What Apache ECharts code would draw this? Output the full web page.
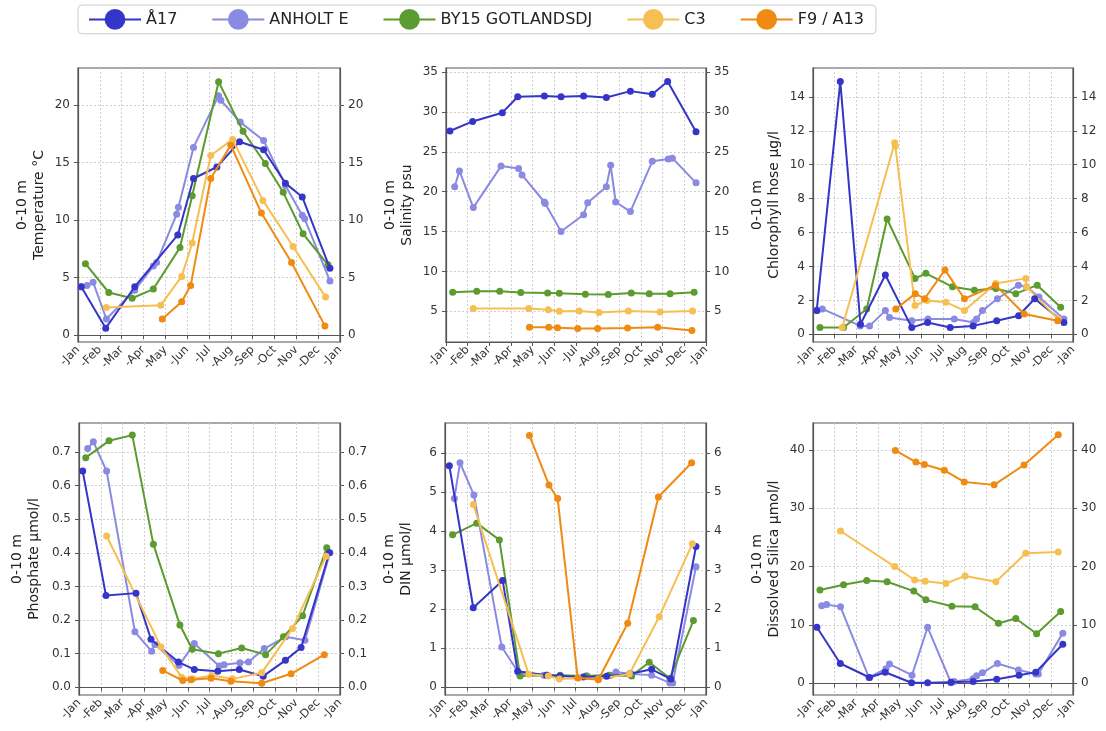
<!DOCTYPE html>
<html><head><meta charset="utf-8">
<script src="https://cdn.jsdelivr.net/npm/echarts@6/dist/echarts.min.js"></script>
<style>html,body{margin:0;padding:0;background:#fff}#c{width:1106px;height:731px}</style>
</head><body><div id="c"></div>
<script>
const stations = ['Å17','ANHOLT E','BY15 GOTLANDSDJ','C3','F9 / A13'];
const colors = ['#3535c8','#8a8ae2','#5b9b2f','#f6bf52','#ef8a12'];
const monthLabels = ['-Jan','-Feb','-Mar','-Apr','-May','-Jun','-Jul','-Aug','-Sep','-Oct','-Nov','-Dec','-Jan'];
// x = month offset from 1 Jan (fractional months)
const tempA17=[[0.15,4.2],[1.27,0.6],[2.6,4.2],[4.57,8.7],[5.29,13.6],[6.36,14.6],[7.4,16.8],[8.5,16.1],[9.5,13.2],[10.27,12.0],[11.54,5.8]];
const tempAnh=[[0.15,4.2],[0.41,4.3],[0.69,4.6],[1.3,1.4],[2.6,3.9],[3.45,6.0],[3.6,6.3],[4.52,10.5],[4.6,11.1],[5.29,16.3],[6.44,20.8],[6.54,20.4],[7.43,18.5],[8.5,16.9],[9.5,13.0],[10.27,10.4],[10.38,10.1],[11.54,4.7]];
const tempBy15=[[0.34,6.2],[1.41,3.7],[2.48,3.2],[3.45,4.0],[4.67,7.6],[5.23,12.1],[6.44,22.0],[7.56,17.7],[8.58,14.9],[9.4,12.4],[10.31,8.8],[11.45,6.1]];
const tempC3=[[1.3,2.4],[3.79,2.6],[4.75,5.1],[5.23,8.0],[6.08,15.6],[7.08,17.0],[8.47,11.7],[9.85,7.7],[11.34,3.3]];
const tempF9=[[3.86,1.4],[4.75,2.9],[5.16,4.3],[6.08,13.6],[7.0,16.5],[8.4,10.6],[9.78,6.3],[11.31,0.8]];

const salA17=[[0.18,27.6],[1.23,28.8],[2.6,29.9],[3.31,31.9],[4.54,32.0],[5.31,31.9],[6.35,32.0],[7.4,31.8],[8.51,32.6],[9.52,32.2],[10.23,33.8],[11.54,27.5]];
const salAnh=[[0.4,20.6],[0.62,22.6],[1.26,18.0],[2.54,23.2],[3.35,22.9],[3.51,22.1],[4.54,18.7],[4.58,18.5],[5.31,15.0],[6.35,17.1],[6.54,18.6],[7.4,20.6],[7.6,23.3],[7.83,18.7],[8.51,17.5],[9.52,23.8],[10.26,24.1],[10.45,24.2],[11.54,21.1]];
const salBy15=[[0.31,7.4],[1.42,7.5],[2.48,7.5],[3.45,7.35],[4.69,7.3],[5.23,7.25],[6.43,7.15],[7.49,7.1],[8.55,7.3],[9.38,7.2],[10.34,7.2],[11.45,7.4]];
const salC3=[[1.26,5.35],[3.82,5.35],[4.72,5.2],[5.23,5.0],[6.15,5.05],[7.06,4.85],[8.42,5.05],[9.88,4.9],[11.38,5.05]];
const salF9=[[3.85,3.0],[4.74,3.0],[5.15,2.95],[6.08,2.85],[7.0,2.85],[8.38,2.9],[9.77,3.0],[11.35,2.6]];

const chlA17=[[0.17,1.4],[1.26,14.9],[2.19,0.6],[3.34,3.5],[4.56,0.4],[5.29,0.7],[6.33,0.4],[7.39,0.5],[8.48,0.8],[9.49,1.1],[10.23,2.1],[11.58,0.7]];
const chlAnh=[[0.2,1.4],[0.43,1.5],[2.18,0.5],[2.61,0.5],[3.34,1.4],[3.53,1.0],[4.56,0.8],[5.31,0.9],[6.52,0.9],[7.41,0.7],[7.55,0.9],[7.82,1.4],[8.51,2.1],[9.48,2.9],[9.85,2.8],[10.43,2.2],[11.58,0.9]];
const chlBy15=[[0.32,0.4],[1.41,0.4],[2.48,1.5],[3.42,6.8],[4.71,3.3],[5.21,3.6],[6.44,2.8],[7.45,2.6],[8.44,2.7],[9.36,2.4],[10.35,2.9],[11.43,1.6]];
const chlC3=[[1.35,0.4],[3.77,11.3],[3.8,11.1],[4.71,1.7],[5.26,2.0],[6.13,1.9],[6.99,1.4],[8.44,3.0],[9.82,3.3],[9.86,2.8],[11.32,0.9]];
const chlF9=[[3.82,1.5],[4.72,2.4],[5.15,2.1],[6.09,3.8],[6.99,2.1],[8.42,2.9],[9.75,1.2],[11.29,0.8]];

const phoA17=[[0.17,0.643],[1.24,0.273],[2.62,0.28],[3.31,0.143],[4.57,0.075],[5.3,0.053],[6.38,0.048],[7.37,0.053],[8.47,0.033],[9.49,0.080],[10.21,0.118],[11.51,0.40]];
const phoAnh=[[0.4,0.71],[0.66,0.73],[1.27,0.643],[2.57,0.165],[3.34,0.107],[3.49,0.127],[4.6,0.065],[5.3,0.13],[6.45,0.063],[6.67,0.067],[7.4,0.073],[7.79,0.075],[8.52,0.115],[9.5,0.15],[10.39,0.14],[11.54,0.40]];
const phoBy15=[[0.31,0.683],[1.38,0.733],[2.45,0.75],[3.42,0.425],[4.64,0.185],[5.21,0.113],[6.41,0.10],[7.48,0.117],[8.58,0.097],[9.4,0.15],[10.28,0.213],[11.39,0.415]];
const phoC3=[[1.27,0.45],[3.77,0.12],[4.72,0.03],[5.23,0.025],[6.1,0.035],[7.06,0.025],[8.4,0.043],[9.82,0.175],[11.36,0.39]];
const phoF9=[[3.85,0.05],[4.77,0.02],[5.15,0.022],[6.07,0.027],[6.98,0.018],[8.4,0.012],[9.75,0.04],[11.28,0.097]];

const dinA17=[[0.2,5.67],[1.3,2.03],[2.65,2.73],[3.34,0.4],[4.67,0.3],[5.29,0.28],[6.36,0.25],[7.43,0.27],[8.48,0.33],[9.5,0.45],[10.39,0.2],[11.54,3.6]];
const dinAnh=[[0.43,4.83],[0.69,5.75],[1.33,4.92],[2.61,1.02],[3.4,0.35],[4.55,0.3],[5.32,0.28],[6.54,0.28],[7.62,0.3],[7.86,0.38],[8.58,0.33],[9.5,0.3],[10.34,0.1],[10.47,0.1],[11.54,3.08]];
const dinBy15=[[0.35,3.9],[1.46,4.2],[2.5,3.77],[3.45,0.28],[4.7,0.3],[5.29,0.3],[6.48,0.28],[7.54,0.3],[8.58,0.28],[9.39,0.63],[10.34,0.22],[11.42,1.7]];
const dinC3=[[1.3,4.68],[3.85,0.32],[4.75,0.28],[5.26,0.2],[6.13,0.22],[7.05,0.2],[8.48,0.33],[9.85,1.8],[11.37,3.67]];
const dinF9=[[3.88,6.45],[4.78,5.18],[5.18,4.83],[6.1,0.23],[7.05,0.18],[8.4,1.63],[9.81,4.87],[11.34,5.75]];

const silA17=[[0.18,9.6],[1.26,3.4],[2.61,1.0],[3.33,1.9],[4.55,0.1],[5.29,0.1],[6.37,0.2],[7.39,0.3],[8.48,0.7],[9.51,1.4],[10.28,1.9],[11.53,6.7]];
const silAnh=[[0.4,13.3],[0.63,13.5],[1.27,13.1],[2.58,1.0],[3.37,2.5],[3.53,3.3],[4.57,1.4],[5.29,9.6],[6.37,0.1],[6.52,0.3],[7.39,0.8],[7.55,1.3],[7.82,1.8],[8.51,3.4],[9.48,2.3],[10.28,1.6],[10.4,1.6],[11.53,8.6]];
const silBy15=[[0.32,16.0],[1.41,16.9],[2.48,17.6],[3.42,17.4],[4.65,15.8],[5.21,14.3],[6.41,13.2],[7.48,13.1],[8.56,10.3],[9.36,11.1],[10.32,8.5],[11.43,12.3]];
const silC3=[[1.27,26.1],[3.77,20.0],[4.69,17.7],[5.18,17.5],[6.13,17.1],[7.02,18.4],[8.44,17.4],[9.82,22.3],[11.32,22.5]];
const silF9=[[3.8,39.9],[4.75,37.9],[5.14,37.5],[6.06,36.5],[6.98,34.5],[8.36,34.0],[9.74,37.4],[11.32,42.6]];

const tempTicks=[0,5,10,15,20], salTicks=[5,10,15,20,25,30,35], chlTicks=[0,2,4,6,8,10,12,14];
const phoTicks=[0,0.1,0.2,0.3,0.4,0.5,0.6,0.7], dinTicks=[0,1,2,3,4,5,6], silTicks=[0,10,20,30,40];

const panels=[
 {name:'0-10 m\nTemperature °C', min:-0.6, max:23.2, ticks:tempTicks, dec:0, data:[tempA17,tempAnh,tempBy15,tempC3,tempF9], l:78,t:68,w:262,h:274},
 {name:'0-10 m\nSalinity psu', min:1.15, max:35.5, ticks:salTicks, dec:0, data:[salA17,salAnh,salBy15,salC3,salF9], l:446,t:68,w:260,h:274},
 {name:'0-10 m\nChlorophyll hose µg/l', min:-0.45, max:15.7, ticks:chlTicks, dec:0, data:[chlA17,chlAnh,chlBy15,chlC3,chlF9], l:813,t:68,w:260,h:274},
 {name:'0-10 m\nPhosphate µmol/l', min:-0.023, max:0.786, ticks:phoTicks, dec:1, data:[phoA17,phoAnh,phoBy15,phoC3,phoF9], l:79,t:423,w:261,h:272},
 {name:'0-10 m\nDIN µmol/l', min:-0.21, max:6.77, ticks:dinTicks, dec:0, data:[dinA17,dinAnh,dinBy15,dinC3,dinF9], l:445,t:423,w:261,h:272},
 {name:'0-10 m\nDissolved Silica µmol/l', min:-2, max:44.6, ticks:silTicks, dec:0, data:[silA17,silAnh,silBy15,silC3,silF9], l:813,t:423,w:260,h:272}
];
const grid=[],xAxis=[],yAxis=[],series=[];
const axCol='#555', txtCol='#333';
panels.forEach((p,i)=>{
  grid.push({left:p.l,top:p.t,width:p.w,height:p.h,show:true,borderColor:axCol,borderWidth:1.2,backgroundColor:'transparent'});
  xAxis.push({type:'value',gridIndex:i,min:0,max:12,interval:1,
    axisLine:{show:true,lineStyle:{color:axCol,width:1.2}},axisTick:{show:true,length:4,lineStyle:{color:axCol}},
    axisLabel:{rotate:45,fontSize:11.5,color:txtCol,fontFamily:'DejaVu Sans',margin:6,formatter:v=>monthLabels[Math.round(v)]},
    splitLine:{show:true,lineStyle:{color:'#cfcfcf',type:[2,2]}}});
  const yCommon={type:'value',gridIndex:i,min:p.min,max:p.max,
    axisLine:{show:true,lineStyle:{color:axCol,width:1.2}},
    axisTick:{show:true,length:4,customValues:p.ticks,lineStyle:{color:axCol}},
    axisLabel:{fontSize:12,color:txtCol,fontFamily:'DejaVu Sans',customValues:p.ticks,formatter:v=>v.toFixed(p.dec)}};
  yAxis.push(Object.assign({},yCommon,{position:'left',name:p.name,nameLocation:'middle',nameGap:i===3?36:30,nameRotate:90,
    nameTextStyle:{fontSize:14,color:'#222',fontFamily:'DejaVu Sans',lineHeight:17},
    splitLine:{show:true,lineStyle:{color:'#cfcfcf',type:[2,2]}}}));
  yAxis.push(Object.assign({},yCommon,{position:'right',splitLine:{show:false}}));
  p.data.forEach((d,k)=>{
    series.push({type:'line',name:stations[k],xAxisIndex:i,yAxisIndex:2*i,data:d,symbol:'circle',symbolSize:7,
      itemStyle:{color:colors[k]},lineStyle:{color:colors[k],width:2},emphasis:{disabled:true},animation:false,z:k===0?5:2+k});
  });
});
const chart=echarts.init(document.getElementById('c'));
chart.setOption({animation:false,grid,xAxis,yAxis,series,
  legend:{top:5,left:78,itemWidth:52,itemHeight:26,itemGap:34,padding:[4,12,4,10],
    borderColor:'#ccc',borderWidth:1,borderRadius:4,
    textStyle:{fontSize:16,color:'#222',fontFamily:'DejaVu Sans'},data:stations}
});
</script></body></html>
